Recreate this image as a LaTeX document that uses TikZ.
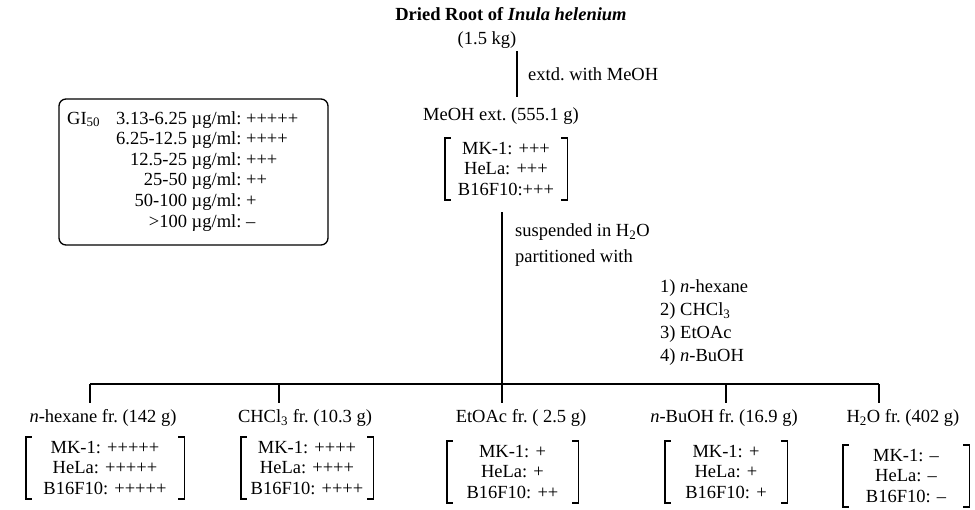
\documentclass[tikz,border=0pt]{standalone}
\usepackage{fontspec}
\setmainfont{Liberation Serif}
\frenchspacing
\begin{document}
\begin{tikzpicture}[x=1pt,y=-1pt,
  txt/.style={font=\frenchspacing\fontsize{18.5}{20.6}\selectfont, inner sep=0pt},
  brk/.style={txt, align=center, text width=#1, inner xsep=0pt, inner ysep=4pt},
  ln/.style={line width=1.4pt},
  bx/.style={line width=1.3pt, rounded corners=7pt}]
\useasboundingbox (0,0) rectangle (975,509);

% top part
\node[txt, font=\bfseries\fontsize{18.5}{20.6}\selectfont] (title) at (511,14) {Dried Root of \textit{Inula helenium}};
\node[txt] (kg) at (487,40) {(1.5 kg)};
\coordinate (u1) at (517,51);
\coordinate (u2) at (517,97);
\draw[ln] (u1) -- (u2);
\node[txt, anchor=west] (extd) at (528,74) {extd. with MeOH};
\node[txt] (meoh) at (501,116) {MeOH ext. (555.1 g)};
\node[brk=122pt] (mb) at (506,169) {MK-1: +++\\HeLa: +++\\B16F10:+++};

% legend box
\node[draw, bx, minimum width=269pt, minimum height=146pt, inner sep=0pt] (gibox) at (193.5,172) {};
\node[txt, anchor=base west] (gilab) at (67,124) {GI\textsubscript{50}};
\node[txt, anchor=base west] (gitab) at (116,124) {\begin{tabular}[t]{@{}r@{\ }l@{}}
3.13-6.25 & µg/ml: +++++\\
6.25-12.5 & µg/ml: ++++\\
12.5-25 & µg/ml: +++\\
25-50 & µg/ml: ++\\
50-100 & µg/ml: +\\
>100 & µg/ml: –
\end{tabular}};

% partition
\coordinate (v1) at (502,212);
\node[txt, anchor=west] (susp) at (515,232) {suspended in H\textsubscript{2}O};
\node[txt, anchor=west] (part) at (515,258) {partitioned with};
\node[txt, anchor=west] (s1) at (660,288) {1) \textit{n}-hexane};
\node[txt, anchor=west] (s2) at (660,311) {2) CHCl\textsubscript{3}};
\node[txt, anchor=west] (s3) at (660,334) {3) EtOAc};
\node[txt, anchor=west] (s4) at (660,357) {4) \textit{n}-BuOH};

% bus
\coordinate (b1) at (90,384);
\coordinate (b2) at (279,384);
\coordinate (b3) at (502,384);
\coordinate (b4) at (726,384);
\coordinate (b5) at (879,384);
\coordinate (d1) at (90,403);
\coordinate (d2) at (279,403);
\coordinate (d3) at (502,403);
\coordinate (d4) at (726,403);
\coordinate (d5) at (879,403);
\draw[ln] (v1) -- (b3);
\draw[ln] (b1) -- (b5);
\foreach \i in {1,...,5} \draw[ln] (b\i) -- (d\i);

% fractions
\node[txt] (f1) at (103,418) {\textit{n}-hexane fr. (142 g)};
\node[txt] (f2) at (305,418) {CHCl\textsubscript{3} fr. (10.3 g)};
\node[txt] (f3) at (521,418) {EtOAc fr. ( 2.5 g)};
\node[txt] (f4) at (724,418) {\textit{n}-BuOH fr. (16.9 g)};
\node[txt] (f5) at (903,418) {H\textsubscript{2}O fr. (402 g)};

\node[brk=158pt] (a1) at (105,468) {MK-1: +++++\\HeLa: +++++\\B16F10: +++++};
\node[brk=132pt] (a2) at (307,468) {MK-1: ++++\\HeLa: ++++\\B16F10: ++++};
\node[brk=131pt] (a3) at (512.5,472) {MK-1: +\\HeLa: +\\B16F10: ++};
\node[brk=122pt] (a4) at (726,472) {MK-1: +\\HeLa: +\\B16F10: +};
\node[brk=126pt] (a5) at (906,476) {MK-1: –\\HeLa: –\\B16F10: –};

\foreach \n in {mb,a1,a2,a3,a4,a5}{
  \draw[ln] ([xshift=6pt]\n.north west) -- (\n.north west) -- (\n.south west) -- ([xshift=6pt]\n.south west);
  \draw[ln] ([xshift=-6pt]\n.north east) -- (\n.north east) -- (\n.south east) -- ([xshift=-6pt]\n.south east);
}
\end{tikzpicture}
\end{document}
